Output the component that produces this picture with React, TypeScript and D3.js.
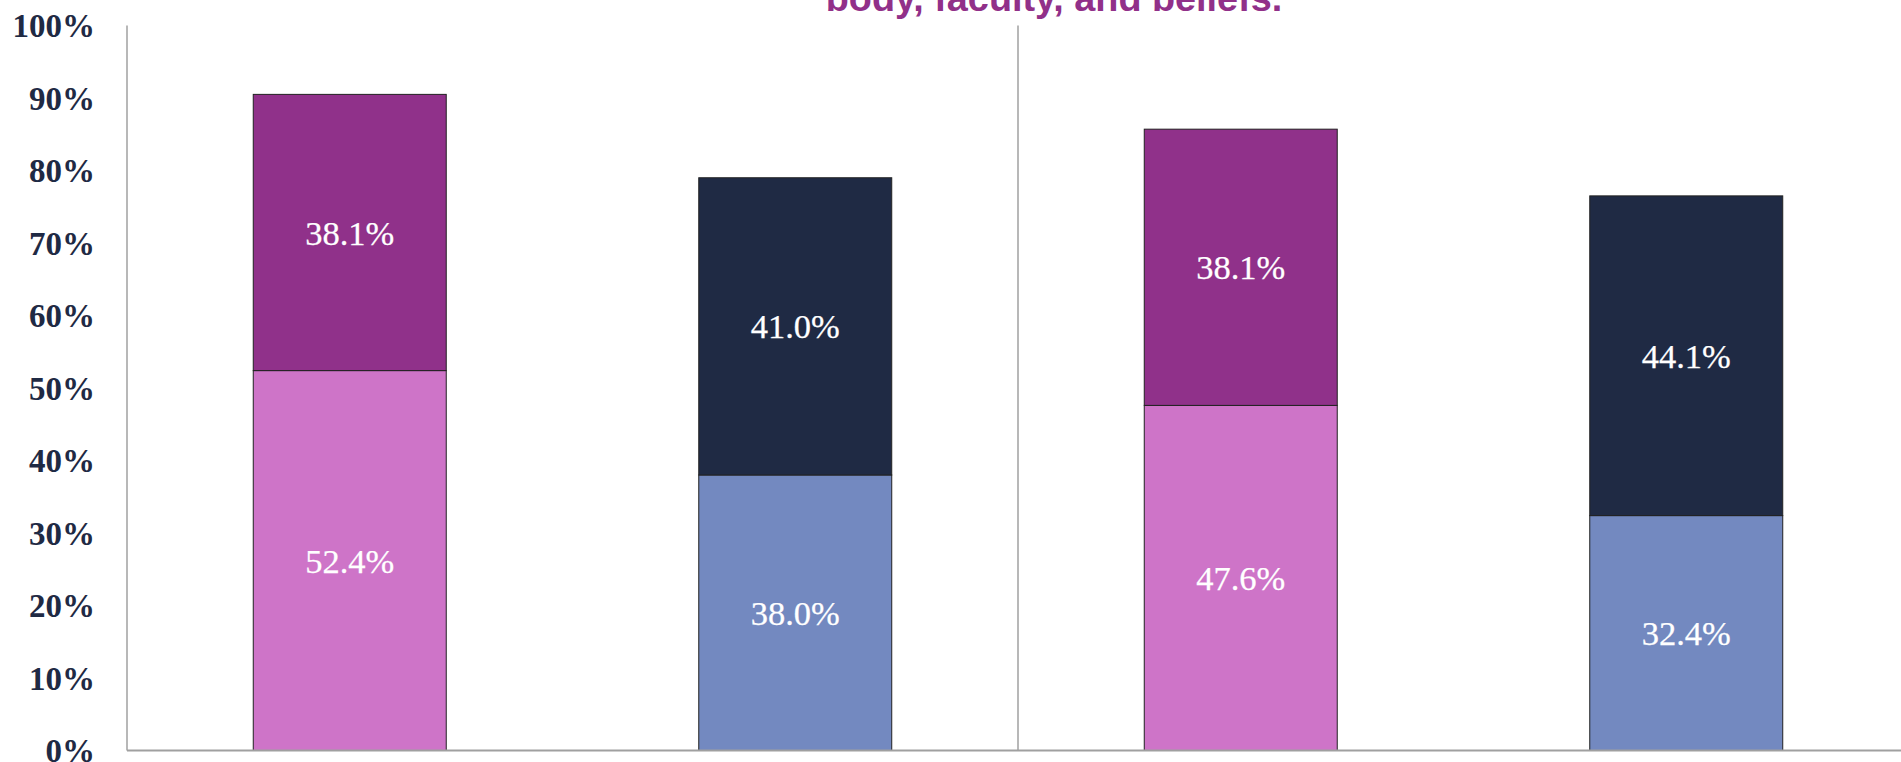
import React from "react";
import * as d3 from "d3";

const categories = ["Group A", "Group B", "Group C", "Group D"];
const lowerValues = [52.4, 38.0, 47.6, 32.4];
const upperValues = [38.1, 41.0, 38.1, 44.1];
const lowerColors = ["#CE74C8", "#7389C0", "#CE74C8", "#7389C0"];
const upperColors = ["#90318A", "#1F2A44", "#90318A", "#1F2A44"];
const yTicks = [0, 10, 20, 30, 40, 50, 60, 70, 80, 90, 100];
const titleLine = "body, faculty, and beliefs.";

const W = 1901;
const H = 762;
const left = 127;
const right = 1909;
const top = 25.5;
const bottom = 750.5;

export default function App() {
  const y = d3.scaleLinear().domain([0, 100]).range([bottom, top]);
  const x = d3
    .scaleBand<string>()
    .domain(categories)
    .range([left, right])
    .paddingInner(0.5668)
    .paddingOuter(0.2834);
  const step = x.step();
  const bw = x.bandwidth();
  const fmt = (v: number) => v.toFixed(1) + "%";
  const dividerX = left + step * 2;

  const labelProps = {
    textAnchor: "middle" as const,
    fontFamily: "'Liberation Serif', 'Times New Roman', serif",
    fontSize: 34.5,
    fill: "#fff",
    stroke: "#fff",
    strokeWidth: 0.25,
  };

  return (
    <svg
      width={W}
      height={H}
      style={{ position: "absolute", left: 0, top: 0, background: "#fff" }}
    >
      <text
        x={1054}
        y={11}
        textAnchor="middle"
        fontFamily="'Liberation Sans', Arial, sans-serif"
        fontWeight="bold"
        fontSize={37.8}
        fill="#913089"
      >
        {titleLine}
      </text>
      {/* y tick labels */}
      {yTicks.map((t) => (
        <text
          key={t}
          x={95}
          y={y(t)}
          dy="0.35em"
          textAnchor="end"
          fontFamily="'Liberation Serif', 'Times New Roman', serif"
          fontWeight="bold"
          fontSize={33}
          fill="#1F2A44"
        >
          {t}%
        </text>
      ))}
      {/* bars */}
      {categories.map((c, i) => {
        const x0 = x(c)!;
        const yl = y(lowerValues[i]);
        const yu = y(lowerValues[i] + upperValues[i]);
        return (
          <g key={c}>
            <rect
              x={x0}
              y={yl}
              width={bw}
              height={y(0) - yl}
              fill={lowerColors[i]}
              stroke="#222"
              strokeWidth={1}
            />
            <rect
              x={x0}
              y={yu}
              width={bw}
              height={yl - yu}
              fill={upperColors[i]}
              stroke="#222"
              strokeWidth={1}
            />
            <text x={x0 + bw / 2} y={(yl + y(0)) / 2} dy="0.35em" {...labelProps}>
              {fmt(lowerValues[i])}
            </text>
            <text x={x0 + bw / 2} y={(yu + yl) / 2} dy="0.35em" {...labelProps}>
              {fmt(upperValues[i])}
            </text>
          </g>
        );
      })}
      {/* axes */}
      <line x1={left} x2={left} y1={top} y2={bottom} stroke="#A0A0A0" strokeWidth={1.5} />
      <line x1={dividerX} x2={dividerX} y1={top} y2={bottom} stroke="#A0A0A0" strokeWidth={1.5} />
      <line x1={left} x2={W} y1={bottom} y2={bottom} stroke="#A0A0A0" strokeWidth={2} />
    </svg>
  );
}
